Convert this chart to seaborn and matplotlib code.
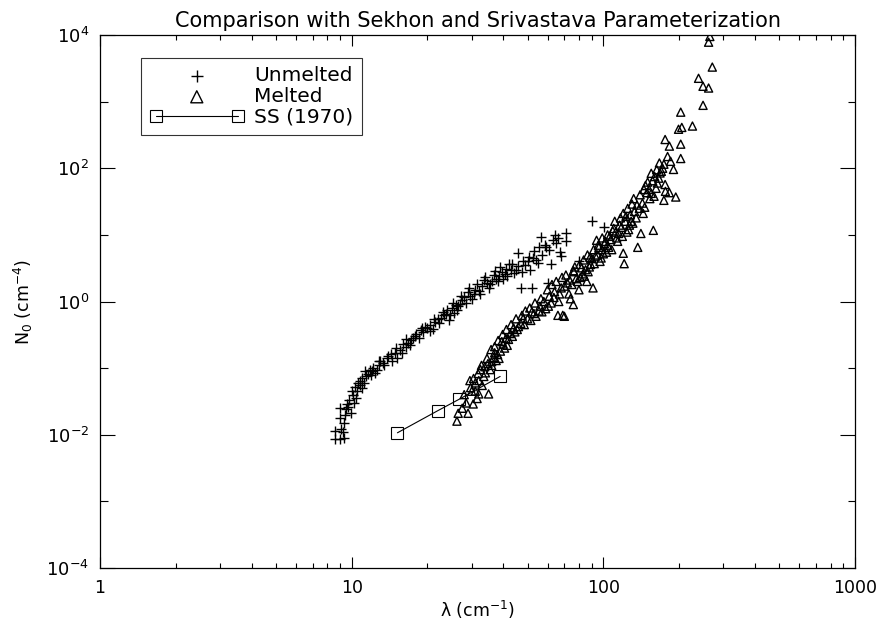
import numpy as np
import pandas as pd
import matplotlib
matplotlib.use("Agg")
import matplotlib.pyplot as plt
import seaborn as sns
from matplotlib.ticker import FixedLocator, LogLocator, NullFormatter, LogFormatterSciNotation

# ---------------- data ----------------
unmelted_lam = [8.6, 9.0, 9.3, 8.6, 9.1, 9.3, 9.0, 9.9, 9.5, 9.0, 9.6, 9.8, 10.4, 10.1, 10.5,
                10.3, 10.8, 10.8, 11.2, 11.0, 11.6, 11.4, 11.9, 12.2, 12.0, 12.6, 12.9, 13.3,
                13.0, 13.8, 14.3, 14.0, 15.2, 14.8, 15.5, 16.0, 16.4, 16.8, 17.2, 17.6, 18.0,
                18.8, 19.2, 19.6, 20.0, 20.4, 21.0, 21.5, 22.0, 22.6, 23.2, 23.8, 24.4, 24.0,
                25.0, 25.5, 26.0, 26.5, 27.0, 27.5, 28.0, 29.0, 29.5, 30.5, 31.0, 32.0, 33.0,
                33.6, 34.5, 35.5, 36.7, 37.5, 38.5, 39.5, 40.5, 41.0, 42.0, 43.0, 44.0, 45.7,
                46.0, 47.0, 48.0, 49.0, 50.6, 51.0, 52.0, 53.0, 54.0, 55.5, 56.5, 57.0, 58.5,
                60.0, 61.0, 62.0, 63.0, 65.0, 67.0, 68.0, 71.0, 71.0, 80.0, 90.0, 101.0,
                9.2, 9.4, 9.7, 10.0, 10.2, 10.6, 11.0, 11.3, 11.8, 12.4, 12.8, 13.5, 14.5,
                15.0, 15.8, 16.5, 17.0, 17.8, 18.5, 19.0, 20.5, 21.2, 22.3, 23.0, 24.6, 25.3,
                26.2, 27.3, 28.5, 29.2, 30.0, 31.5, 32.5, 34.0, 35.0, 36.0, 37.0, 38.0, 39.0,
                40.0, 41.5, 43.5, 45.0, 47.5, 50.0, 52.5, 55.0, 59.0, 64.0, 66.0]
unmelted_n0 = [0.0087, 0.0087, 0.0090, 0.0115, 0.012, 0.015, 0.018, 0.021, 0.024, 0.025, 0.029,
               0.033, 0.036, 0.040, 0.045, 0.052, 0.055, 0.065, 0.060, 0.072, 0.083, 0.075,
               0.078, 0.10, 0.090, 0.095, 0.11, 0.12, 0.13, 0.14, 0.165, 0.15, 0.144, 0.17,
               0.19, 0.23, 0.21, 0.24, 0.26, 0.28, 0.32, 0.37, 0.35, 0.42, 0.40, 0.45, 0.39,
               0.50, 0.55, 0.57, 0.62, 0.66, 0.52, 0.75, 0.80, 0.68, 0.90, 0.85, 0.93, 1.05,
               1.15, 1.37, 1.2, 1.3, 1.5, 1.45, 1.7, 2.1, 1.9, 1.8, 2.5, 2.2, 2.4, 2.8, 2.6,
               3.1, 3.7, 3.0, 2.7, 5.3, 3.4, 1.6, 4.0, 3.5, 4.7, 3.0, 1.6, 5.8, 4.2, 6.5, 9.2,
               5.0, 7.0, 1.9, 6.0, 3.7, 8.3, 7.5, 5.5, 4.9, 8.0, 10.5, 4.0, 16.0, 13.0,
               0.011, 0.020, 0.026, 0.045, 0.030, 0.060, 0.050, 0.090, 0.095, 0.085, 0.13,
               0.11, 0.13, 0.20, 0.17, 0.27, 0.22, 0.30, 0.28, 0.40, 0.36, 0.55, 0.47, 0.70,
               0.63, 0.95, 0.75, 1.2, 0.95, 1.6, 1.1, 1.8, 1.3, 2.3, 1.6, 2.0, 2.9, 2.0, 3.3,
               2.2, 2.4, 3.6, 3.0, 2.8, 4.0, 4.5, 3.8, 6.5, 10.0, 9.0]

melted_lam = [26.2, 26.5, 29.0, 30.4, 28.5, 32.0, 35.0, 29.7, 31.0, 33.0, 30.5, 31.8, 33.5,
              32.5, 34.8, 33.8, 35.5, 36.7, 36.0, 37.5, 38.0, 39.0, 40.0, 40.5, 41.5, 42.7,
              42.0, 43.5, 44.5, 45.5, 47.0, 46.0, 48.5, 50.0, 51.5, 53.0, 54.0, 55.5, 57.0,
              59.0, 60.5, 62.0, 63.6, 66.0, 69.0, 70.0, 70.0, 72.0, 73.0, 74.0, 76.0, 76.0,
              76.5, 78.0, 81.0, 80.0, 83.0, 85.0, 86.0, 88.0, 90.0, 91.0, 92.0, 94.0, 95.0,
              97.0, 99.0, 101.0, 103.0, 105.0, 107.0, 110.0, 111.0, 113.0, 115.0, 118.0,
              120.0, 120.0, 121.0, 124.0, 127.0, 130.0, 131.0, 133.0, 135.0, 137.0, 141.0,
              144.0, 146.0, 149.0, 150.0, 153.0, 155.0, 158.0, 159.0, 162.0, 166.0, 170.0,
              174.0, 174.0, 176.0, 176.5, 176.0, 183.0, 183.0, 185.0, 190.0, 194.0, 199.0,
              203.0, 203.0, 203.0, 205.0, 226.0, 239.0, 249.0, 249.0, 262.0, 262.0, 271.0,
              265.0,
              44.0, 48.0, 52.0, 56.0, 58.0, 61.0, 64.0, 67.0, 68.0, 75.0, 79.0, 82.0, 84.0,
              87.0, 89.0, 93.0, 96.0, 98.0, 100.0, 102.0, 104.0, 106.0, 108.0, 112.0, 116.0,
              119.0, 122.0, 126.0, 128.0, 139.0, 143.0, 147.0, 152.0, 157.0, 160.0, 164.0,
              168.0, 172.0, 36.0, 37.0, 38.5, 34.0, 32.0, 30.0, 31.5, 39.5, 41.0,
              27.5, 28.0, 29.5, 31.0, 32.8, 34.5, 35.8, 37.0, 38.2, 39.8, 41.2, 43.0, 45.0,
              47.5, 49.0, 51.0, 53.5, 56.5, 60.0, 62.5, 65.0, 66.5, 68.5, 71.0, 73.5, 77.0,
              80.5, 83.5, 86.5, 88.5, 91.5, 95.5, 99.0, 104.0, 109.0, 114.0, 117.0, 123.0,
              125.0, 129.0, 132.0, 136.0, 140.0, 145.0, 155.0, 163.0, 167.0, 180.0]
melted_n0 = [0.016, 0.021, 0.021, 0.029, 0.030, 0.041, 0.041, 0.051, 0.060, 0.055, 0.070,
             0.083, 0.075, 0.095, 0.117, 0.105, 0.095, 0.144, 0.125, 0.13, 0.16, 0.18, 0.23,
             0.20, 0.22, 0.33, 0.27, 0.30, 0.35, 0.38, 0.47, 0.42, 0.45, 0.55, 0.52, 0.66,
             0.60, 0.72, 0.70, 0.78, 0.85, 0.95, 1.15, 0.62, 0.62, 0.6, 1.7, 1.9, 1.3, 1.1,
             0.9, 2.9, 2.8, 2.2, 2.3, 1.5, 2.6, 3.0, 2.0, 3.3, 4.4, 1.6, 3.7, 8.3, 5.0, 4.0,
             6.0, 7.4, 5.5, 6.5, 8.5, 12.5, 16.0, 9.0, 10.5, 13.0, 21.0, 5.3, 3.7, 11.0, 14.0,
             29.0, 15.0, 22.5, 18.0, 6.5, 10.5, 21.0, 26.0, 43.0, 62.0, 35.0, 84.0, 11.7,
             38.0, 50.0, 71.0, 90.0, 115.0, 33.0, 57.0, 45.0, 270.0, 215.0, 43.0, 127.0,
             96.0, 37.0, 385.0, 230.0, 140.0, 695.0, 410.0, 430.0, 2240.0, 1700.0, 880.0,
             1600.0, 7800.0, 3300.0, 9500.0,
             0.40, 0.55, 0.70, 0.85, 1.0, 1.2, 1.4, 1.3, 1.6, 1.8, 2.0, 3.2, 2.4, 2.8, 3.6,
             4.8, 6.5, 4.5, 5.2, 8.0, 7.0, 9.5, 6.0, 11.0, 14.0, 9.5, 16.0, 12.0, 20.0, 25.0,
             30.0, 55.0, 48.0, 65.0, 75.0, 60.0, 85.0, 100.0, 0.11, 0.17, 0.14, 0.085,
             0.065, 0.045, 0.035, 0.25, 0.28,
             0.025, 0.040, 0.065, 0.045, 0.11, 0.14, 0.19, 0.21, 0.26, 0.32, 0.38, 0.45,
             0.55, 0.62, 0.72, 0.80, 0.95, 1.1, 1.5, 1.8, 2.0, 1.0, 2.3, 2.5, 2.1, 3.3, 3.6,
             4.2, 5.0, 4.6, 6.0, 7.0, 9.0, 10.0, 11.5, 8.0, 18.0, 19.0, 25.0, 16.0, 35.0,
             28.0, 40.0, 48.0, 42.0, 95.0, 120.0, 150.0]

ss_lam = [15.2, 22.0, 26.7, 38.9]
ss_n0 = [0.0107, 0.023, 0.034, 0.075]

title = "Comparison with Sekhon and Srivastava Parameterization"
xlabel = r"$\lambda$ (cm$^{-1}$)"
ylabel = r"N$_0$ (cm$^{-4}$)"

# ---------------- plotting ----------------
sns.set_theme(style="white")
plt.rcParams["font.family"] = ["DejaVu Sans"]
plt.rcParams["mathtext.default"] = "regular"
plt.rcParams["text.color"] = "black"
plt.rcParams["axes.labelcolor"] = "black"
plt.rcParams["xtick.color"] = "black"
plt.rcParams["ytick.color"] = "black"

fig = plt.figure(figsize=(8.8, 6.22), dpi=100)
ax = fig.add_axes([100 / 880, 1 - 568 / 622, 755 / 880, 533 / 622])

df_u = pd.DataFrame({"lam": unmelted_lam, "n0": unmelted_n0})
df_m = pd.DataFrame({"lam": melted_lam, "n0": melted_n0})
df_s = pd.DataFrame({"lam": ss_lam, "n0": ss_n0})

sns.scatterplot(data=df_u, x="lam", y="n0", marker="+", color="black", s=45,
                linewidth=1.0, label="Unmelted", ax=ax)
sns.scatterplot(data=df_m, x="lam", y="n0", marker="^", facecolor="none",
                edgecolor="black", s=34, linewidth=1.0, label="Melted", ax=ax)
sns.lineplot(data=df_s, x="lam", y="n0", marker="s", markersize=9,
             markerfacecolor="none", markeredgecolor="black", markeredgewidth=0.8,
             color="black", linewidth=0.8, label="SS (1970)", ax=ax)

ax.set_xscale("log")
ax.set_yscale("log")
ax.set_xlim(1, 1000)
ax.set_ylim(1e-4, 1e4)

ax.xaxis.set_major_locator(FixedLocator([1, 10, 100, 1000]))
ax.xaxis.set_major_formatter(matplotlib.ticker.FixedFormatter(["1", "10", "100", "1000"]))
ax.xaxis.set_minor_locator(LogLocator(base=10, subs=np.arange(2, 10), numticks=20))
ax.xaxis.set_minor_formatter(NullFormatter())
ax.yaxis.set_major_locator(FixedLocator([1e-4, 1e-2, 1e0, 1e2, 1e4]))
ax.yaxis.set_major_formatter(LogFormatterSciNotation())
ax.yaxis.set_minor_locator(FixedLocator([1e-3, 1e-1, 1e1, 1e3]))
ax.yaxis.set_minor_formatter(NullFormatter())

ax.tick_params(axis="both", which="both", direction="in", top=True, right=True,
               bottom=True, left=True, color="black", width=0.8)
ax.tick_params(axis="x", which="major", length=8, labelsize=12.5, pad=8)
ax.tick_params(axis="x", which="minor", length=3.6)
ax.tick_params(axis="y", which="major", length=10.8, labelsize=13, pad=8)
ax.tick_params(axis="y", which="minor", length=5.4)

for sp in ax.spines.values():
    sp.set_color("black")
    sp.set_linewidth(0.9)

ax.set_title(title, fontsize=15, pad=6, color="black")
ax.set_xlabel(xlabel, fontsize=12.5, labelpad=1)
ax.set_ylabel(ylabel, fontsize=12.5, labelpad=8)

leg = ax.legend(loc="upper left", bbox_to_anchor=(41 / 755, 510 / 533),
                borderaxespad=0, frameon=True, fancybox=False, edgecolor="black",
                fontsize=14.5, handlelength=4.7, handletextpad=0.5, numpoints=2,
                scatterpoints=1, labelspacing=0.08, borderpad=0.42)
leg.get_frame().set_linewidth(0.8)
for h in leg.legend_handles[:2]:
    h.set_sizes([75])

fig.savefig("out.png", dpi=100)
